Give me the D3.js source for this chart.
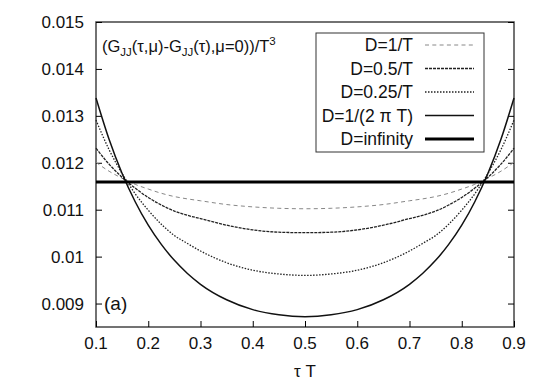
<!DOCTYPE html>
<html>
<head>
<meta charset="utf-8">
<script src="https://cdn.jsdelivr.net/npm/d3@7"></script>
<style>
  body { margin: 0; background: white; }
  text { font-family: "Liberation Sans", Arial, sans-serif; fill: #111; }
</style>
</head>
<body>
<div id="chart"></div>
<script>
// tau*T sample points
var tau = [0.1, 0.125, 0.15, 0.175, 0.2, 0.225, 0.25, 0.275, 0.3, 0.35, 0.4, 0.45, 0.5,
           0.55, 0.6, 0.65, 0.7, 0.725, 0.75, 0.775, 0.8, 0.825, 0.85, 0.875, 0.9];

// values in units of 1e-3
var d1 = [12.01, 11.82, 11.67, 11.54, 11.44, 11.35, 11.28, 11.23, 11.19, 11.11, 11.06, 11.03, 11.02,
          11.03, 11.06, 11.11, 11.19, 11.23, 11.28, 11.35, 11.44, 11.54, 11.67, 11.82, 12.01];
var d05 = [12.31, 11.97, 11.69, 11.46, 11.26, 11.10, 10.97, 10.88, 10.81, 10.67, 10.57, 10.52, 10.51,
           10.52, 10.57, 10.67, 10.81, 10.88, 10.97, 11.10, 11.26, 11.46, 11.69, 11.97, 12.31];
var d025 = [12.91, 12.28, 11.77, 11.34, 10.99, 10.69, 10.45, 10.28, 10.12, 9.87, 9.71, 9.63, 9.60,
            9.63, 9.71, 9.87, 10.12, 10.28, 10.45, 10.69, 10.99, 11.34, 11.77, 12.28, 12.91];
var d2pi = [13.38, 12.50, 11.77, 11.17, 10.67, 10.26, 9.92, 9.64, 9.41, 9.08, 8.87, 8.76, 8.72,
            8.76, 8.87, 9.08, 9.41, 9.64, 9.92, 10.26, 10.67, 11.17, 11.77, 12.50, 13.38];
var dinf = 11.59;

var seriesNames = ["D=1/T", "D=0.5/T", "D=0.25/T", "D=1/(2 \u03c0 T)", "D=infinity"];
var xTicks = [0.1, 0.2, 0.3, 0.4, 0.5, 0.6, 0.7, 0.8, 0.9];
var yTicks = [0.009, 0.010, 0.011, 0.012, 0.013, 0.014, 0.015];
var yTickLabels = ["0.009", "0.01", "0.011", "0.012", "0.013", "0.014", "0.015"];

var W = 545, H = 382;
var pLeft = 96, pRight = 514, pTop = 22, pBottom = 327;

var svg = d3.select("#chart").append("svg")
    .attr("width", W).attr("height", H);

var x = d3.scaleLinear().domain([0.1, 0.9]).range([pLeft, pRight]);
var y = d3.scaleLinear().domain([0.0085, 0.015]).range([pBottom, pTop]);

// frame
svg.append("rect")
    .attr("x", pLeft).attr("y", pTop)
    .attr("width", pRight - pLeft).attr("height", pBottom - pTop)
    .style("fill", "none").style("stroke", "#444").style("stroke-width", 1.5);

// y axis (ticks inside, mirrored on the right)
svg.append("g")
    .attr("transform", "translate(" + pLeft + ",0)")
    .call(d3.axisRight(y).tickValues(yTicks).tickSize(6).tickFormat(""))
    .call(function(g) { g.select(".domain").remove(); });
svg.append("g")
    .attr("transform", "translate(" + pRight + ",0)")
    .call(d3.axisLeft(y).tickValues(yTicks).tickSize(6).tickFormat(""))
    .call(function(g) { g.select(".domain").remove(); });
svg.selectAll(".ylab").data(yTicks).enter().append("text")
    .attr("x", pLeft - 12)
    .attr("y", function(d) { return y(d) + 6; })
    .attr("text-anchor", "end")
    .style("font-size", "17px")
    .text(function(d, i) { return yTickLabels[i]; });

// x axis
svg.append("g")
    .attr("transform", "translate(0," + pBottom + ")")
    .call(d3.axisTop(x).tickValues(xTicks).tickSize(6).tickFormat(""))
    .call(function(g) { g.select(".domain").remove(); });
svg.selectAll(".xlab").data(xTicks).enter().append("text")
    .attr("x", function(d) { return x(d); })
    .attr("y", pBottom + 22)
    .attr("text-anchor", "middle")
    .style("font-size", "17px")
    .text(function(d) { return d3.format(".1f")(d); });
svg.append("text")
    .attr("x", (pLeft + pRight) / 2).attr("y", 377)
    .attr("text-anchor", "middle")
    .style("font-size", "17px")
    .text("\u03c4 T");

var styles = [
    { data: d1, color: "#888", width: 1, dash: "4,3.3" },
    { data: d05, color: "#222", width: 1.3, dash: "3,1" },
    { data: d025, color: "#222", width: 1.3, dash: "1.5,1.5" },
    { data: d2pi, color: "#111", width: 1.5, dash: null },
    { data: null, color: "#000", width: 3, dash: null }
];

var line = d3.line()
    .x(function(d) { return x(d[0]); })
    .y(function(d) { return y(d[1] / 1000); })
    .curve(d3.curveMonotoneX);

var plot = svg.append("g");
styles.forEach(function(s) {
    var pts = s.data ? tau.map(function(t, i) { return [t, s.data[i]]; })
                     : [[0.1, dinf], [0.9, dinf]];
    plot.append("path")
        .attr("d", line(pts))
        .style("fill", "none")
        .style("stroke", s.color)
        .style("stroke-width", s.width)
        .style("stroke-dasharray", s.dash);
});

// title label
var title = svg.append("text").attr("x", 102).attr("y", 52).style("font-size", "16.5px");
title.append("tspan").text("(G");
title.append("tspan").attr("dy", 4).style("font-size", "11.5px").text("JJ");
title.append("tspan").attr("dy", -4).text("(\u03c4,\u03bc)-G");
title.append("tspan").attr("dy", 4).style("font-size", "11.5px").text("JJ");
title.append("tspan").attr("dy", -4).text("(\u03c4),\u03bc=0))/T");
title.append("tspan").attr("dy", -7).style("font-size", "11.5px").text("3");

svg.append("text").attr("x", 104).attr("y", 310)
    .style("font-size", "19px").text("(a)");

// legend
var lg = svg.append("g");
lg.append("rect")
    .attr("x", 316).attr("y", 33).attr("width", 168).attr("height", 119)
    .style("fill", "white").style("stroke", "#333").style("stroke-width", 1);
seriesNames.forEach(function(name, i) {
    var cy = 45 + i * 23.5;
    lg.append("text")
        .attr("x", 413).attr("y", cy + 6)
        .attr("text-anchor", "end")
        .style("font-size", "17.5px")
        .text(name);
    lg.append("line")
        .attr("x1", 425).attr("x2", 474).attr("y1", cy).attr("y2", cy)
        .style("stroke", styles[i].color)
        .style("stroke-width", styles[i].width)
        .style("stroke-dasharray", styles[i].dash);
});
</script>
</body>
</html>
